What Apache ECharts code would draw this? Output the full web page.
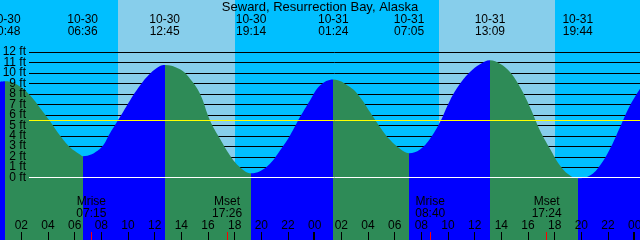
<!DOCTYPE html>
<html><head><meta charset="utf-8">
<script src="https://cdn.jsdelivr.net/npm/echarts@6/dist/echarts.min.js"></script>
<style>html,body{margin:0;padding:0;background:#00BFFF}#c{width:640px;height:240px}</style>
</head><body><div id="c"></div>
<script>
const chartTitle = 'Seward, Resurrection Bay, Alaska';
// tide curve readings (hours since 10-30 00:00, feet)
const curveHours = [0.4,0.8,1.9,2.65,3.4,4.15,4.9,5.65,6.4,6.6,7.9,8.65,9.4,10.15,10.9,11.65,12.4,12.75,13.9,14.65,15.4,16.15,16.9,17.65,18.4,19.23,19.9,20.65,21.4,22.15,22.9,23.65,24.4,25.4,26.65,27.4,28.15,28.9,29.65,30.4,31.08,31.9,32.65,33.4,34.15,34.9,35.65,36.4,37.15,37.9,38.65,39.4,40.15,40.9,41.65,42.4,43.15,43.73,44.65,45.4,46.15,46.9,47.65,48.4];
const curveFeet = [9.2,9.25,8.76,7.9,6.7,5.43,4.06,2.94,2.24,2.08,2.79,4.28,5.82,7.42,8.85,9.97,10.7,10.8,10.39,9.5,8.06,5.5,3.74,2.15,1.03,0.45,0.64,1.35,2.62,4.06,5.82,7.42,8.85,9.43,8.69,7.73,6.3,4.86,3.65,2.79,2.37,2.72,3.74,5.34,7.42,9.0,10.13,10.87,11.25,10.93,10.13,8.69,6.77,4.54,2.79,1.19,0.23,-0.03,0.23,1.19,2.79,4.86,6.94,8.54];
const tideEvents = ['10-30 00:48','10-30 06:36','10-30 12:45','10-30 19:14','10-31 01:24','10-31 07:05','10-31 13:09','10-31 19:44'];
const tideEventFeet = [9.25,2.08,10.8,0.45,9.43,2.37,11.25,-0.03];
const sunEvents = ['10-30 09:15','10-30 18:02','10-31 09:19','10-31 18:01'];
const moonNames = ['Mrise','Mset','Mrise','Mset'];
const moonTimes = ['10-30 07:15','10-30 17:26','10-31 08:40','10-31 17:24'];
const midnights = ['10-31 00:00','11-01 00:00'];
const heightTicks = [0,1,2,3,4,5,6,7,8,9,10,11,12];
const refLevels = [0, 5.5];

function toHours(s){
  const [d,t]=s.split(' ');
  const [mo,day]=d.split('-').map(Number);
  const [hh,mm]=t.split(':').map(Number);
  const dayOff = mo===11 ? (31-30)+day : day-30;
  return dayOff*24+hh+mm/60;
}
const FONT='Liberation Sans';
const RISE='#0000FF', FALL='#2E8B57';
const evH = tideEvents.map(toHours);
const pieces=[];
pieces.push({lt:evH[0], color: tideEventFeet[0]>tideEventFeet[1]?RISE:FALL});
for(let i=0;i<evH.length-1;i++){
  pieces.push({gte:evH[i], lt:evH[i+1], color: tideEventFeet[i+1]>tideEventFeet[i]?RISE:FALL});
}
const last=evH.length-1;
pieces.push({gte:evH[last], color: tideEventFeet[last]<tideEventFeet[last-1]?RISE:FALL});

const sunPairs=[];
for(let i=0;i<sunEvents.length;i+=2) sunPairs.push([toHours(sunEvents[i]), toHours(sunEvents[i+1])]);

const pxPerHour = 640/48;
const chart = echarts.init(document.getElementById('c'), null, {renderer:'canvas'});
const txt = (text,x,y)=>({type:'text',style:{text,x,y,align:'center',verticalAlign:'middle',fontSize:12,fontFamily:FONT,fill:'#000',lineHeight:12}});
chart.setOption({
  backgroundColor:'#00BFFF',
  animation:false,
  title:{text:chartTitle,left:'center',top:1,padding:0,textStyle:{fontSize:13,fontWeight:'normal',fontFamily:FONT,color:'#000'}},
  grid:[
    {left:-0.4*pxPerHour, top:0, width:50*pxPerHour, height:240, containLabel:false, outerBoundsMode:'none'},
    {left:29, right:0, top:0, height:240, containLabel:false, outerBoundsMode:'none'}
  ],
  xAxis:[
    {type:'value', gridIndex:0, position:'bottom', min:0, max:50, interval:2, z:5,
     axisLine:{show:false, onZero:false}, splitLine:{show:false}, minorTick:{show:false},
     axisTick:{show:true, inside:true, length:8, lineStyle:{color:'#000', width:1}},
     axisLabel:{inside:true, margin:8, fontSize:12, fontFamily:FONT, color:'#000', showMinLabel:true, showMaxLabel:true, hideOverlap:false,
       formatter:v=> v===0 ? '' : String(v%24).padStart(2,'0')}},
    {type:'value', gridIndex:1, min:0, max:1, show:false, axisLine:{onZero:false}}
  ],
  yAxis:[
    {type:'value', gridIndex:0, min:-(240-177.92)/10.45, max:177.92/10.45, show:false, axisLine:{onZero:false}},
    {type:'value', gridIndex:1, min:-6, max:17, interval:1, z:5,
     axisLine:{show:false, onZero:false}, axisTick:{show:false}, splitLine:{show:false},
     axisLabel:{margin:3, fontSize:12, fontFamily:FONT, color:'#000', showMinLabel:true, showMaxLabel:true, hideOverlap:false,
       formatter:v=> (v>=0 && v<=12) ? v+' ft' : ''}}
  ],
  visualMap:{type:'piecewise', show:false, dimension:0, seriesIndex:2, pieces},
  series:[
    {type:'custom', z:0, silent:true, data:sunPairs, encode:{x:[0,1]},
     renderItem:(p,api)=>{
       const x1=Math.round(api.coord([api.value(0),0])[0]);
       const x2=Math.round(api.coord([api.value(1),0])[0]);
       return {type:'rect', shape:{x:x1,y:0,width:x2-x1,height:240}, style:{fill:'#87CEEB'}};
     }},
    {type:'custom', z:1, silent:true, data:heightTicks.map(v=>[0,v]),
     renderItem:(p,api)=>{
       const y=Math.floor(api.coord([0,api.value(1)])[1])+0.5;
       return {type:'line', shape:{x1:29,y1:y,x2:640,y2:y}, style:{stroke:'#000', lineWidth:1}};
     }},
    {type:'line', z:2, data:curveHours.map((h,i)=>[h,curveFeet[i]]), smooth:0.4,
     showSymbol:false, silent:true, lineStyle:{width:0, opacity:0},
     areaStyle:{opacity:1, origin:'start'}},
    {type:'custom', z:3, silent:true, data:refLevels.map(v=>[0,v]),
     renderItem:(p,api)=>{
       const y=Math.floor(api.coord([0,api.value(1)])[1])+0.5;
       return {type:'line', shape:{x1:29,y1:y,x2:640,y2:y}, style:{stroke:['#FFFFFF','#FFFF00'][p.dataIndex], lineWidth:1}};
     }},
    {type:'custom', z:6, silent:true, data:evH.map(h=>[h,0]),
     renderItem:(p,api)=>{
       const x=api.coord([api.value(0),0])[0];
       const s=tideEvents[p.dataIndex].split(' ');
       return txt(s[0]+'\n'+s[1], x, 25.5);
     }},
    {type:'custom', z:6, silent:true, data:moonTimes.map(t=>[toHours(t),0]),
     renderItem:(p,api)=>{
       const x=api.coord([api.value(0),0])[0];
       return {type:'group', children:[
         {type:'rect', shape:{x:Math.floor(x), y:232, width:1, height:8}, style:{fill:'#FF0000'}},
         txt(moonNames[p.dataIndex]+'\n'+moonTimes[p.dataIndex].split(' ')[1], x, 207.5)
       ]};
     }},
    {type:'custom', z:6, silent:true, data:midnights.map(t=>[toHours(t),0]),
     renderItem:(p,api)=>{
       const x=api.coord([api.value(0),0])[0];
       return {type:'rect', shape:{x:Math.floor(x)-1, y:232, width:2, height:8}, style:{fill:'#000'}};
     }}
  ]
});
</script></body></html>
